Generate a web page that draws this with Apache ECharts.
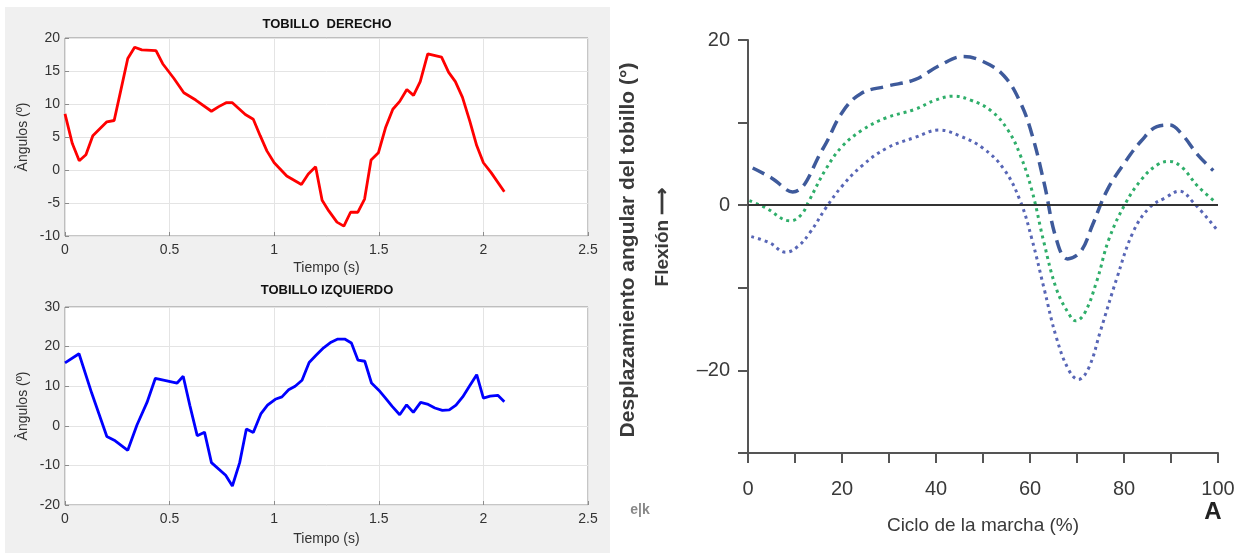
<!DOCTYPE html>
<html>
<head>
<meta charset="utf-8">
<script src="https://cdn.jsdelivr.net/npm/echarts@6/dist/echarts.min.js"></script>
<style>
  html, body { margin: 0; padding: 0; background: #ffffff; }
  #chart { width: 1247px; height: 553px; }
</style>
</head>
<body>
<div id="chart"></div>
<script>
// Tobillo derecho: tiempo (s) y ángulo (º)
const derechoTiempo = [0, 0.035, 0.068, 0.1, 0.133, 0.2, 0.235, 0.267, 0.3, 0.333, 0.367, 0.435, 0.467, 0.52, 0.568, 0.625, 0.7, 0.735, 0.77, 0.8, 0.862, 0.9, 0.933, 0.965, 1.0, 1.06, 1.13, 1.163, 1.198, 1.229, 1.261, 1.3, 1.333, 1.365, 1.4, 1.432, 1.463, 1.498, 1.532, 1.567, 1.6, 1.634, 1.666, 1.698, 1.734, 1.8, 1.834, 1.866, 1.9, 1.935, 1.968, 2.0, 2.037, 2.1];
const derechoAngulo = [8.5, 4.0, 1.4, 2.3, 5.2, 7.3, 7.5, 12.1, 16.9, 18.6, 18.2, 18.1, 16.1, 13.9, 11.7, 10.6, 8.9, 9.6, 10.2, 10.2, 8.4, 7.7, 5.2, 2.9, 1.1, -0.9, -2.2, -0.6, 0.5, -4.6, -6.2, -7.9, -8.5, -6.4, -6.4, -4.4, 1.5, 2.6, 6.4, 9.2, 10.4, 12.2, 11.3, 13.4, 17.6, 17.1, 14.8, 13.4, 11.0, 7.4, 3.7, 1.1, -0.4, -3.3];

// Tobillo izquierdo: tiempo (s) y ángulo (º)
const izquierdoTiempo = [0, 0.067, 0.128, 0.2, 0.24, 0.3, 0.344, 0.392, 0.432, 0.536, 0.565, 0.597, 0.632, 0.667, 0.7, 0.768, 0.8, 0.835, 0.867, 0.9, 0.936, 0.968, 1.005, 1.037, 1.069, 1.1, 1.133, 1.167, 1.2, 1.236, 1.272, 1.304, 1.337, 1.369, 1.4, 1.433, 1.465, 1.5, 1.532, 1.564, 1.6, 1.633, 1.665, 1.7, 1.732, 1.768, 1.804, 1.837, 1.869, 1.901, 1.933, 1.968, 2.0, 2.032, 2.069, 2.1];
const izquierdoAngulo = [15.9, 18.2, 8.2, -2.7, -3.8, -6.2, 0.2, 5.9, 12.0, 10.8, 12.5, 5.1, -2.5, -1.6, -9.3, -12.5, -15.2, -9.3, -0.8, -1.7, 3.0, 5.2, 6.7, 7.3, 9.1, 10.0, 11.5, 16.0, 17.8, 19.7, 21.1, 21.9, 21.9, 20.9, 16.6, 16.3, 10.8, 9.0, 7.0, 4.9, 2.8, 5.3, 3.4, 5.9, 5.5, 4.5, 3.9, 4.0, 5.2, 7.3, 10.0, 12.9, 7.0, 7.5, 7.7, 6.1];

// Ciclo de la marcha (%): curva superior (discontinua)
const superiorCiclo = [1, 5, 9.5, 16, 20, 24, 29.5, 35.5, 40.7, 45.8, 50, 54.4, 57.9, 60.4, 63, 65.6, 68, 70.8, 73.3, 76.4, 80.2, 83.7, 87, 89.7, 92.3, 95.7, 99];
const superiorGrados = [4.5, 3.3, 1.6, 6.9, 11.2, 13.5, 14.4, 15.2, 16.9, 18.0, 17.4, 15.7, 12.5, 8.6, 2.7, -4.1, -6.5, -5.6, -2.4, 1.8, 5.2, 7.8, 9.5, 9.7, 8.6, 6.1, 4.2];

// Curva media (punteada verde)
const mediaCiclo = [0.3, 3.7, 9, 11.4, 13, 16.6, 20, 24.3, 29.5, 35.5, 39.8, 43.7, 47.5, 51.8, 55.3, 57.9, 60.4, 63, 65.6, 68.2, 69.7, 71.6, 74.2, 76.8, 80.2, 83.7, 87.1, 89.7, 92.3, 95.7, 99.6];
const mediaGrados = [0.55, -0.3, -1.9, -1.1, 0.55, 4.4, 7.1, 9.1, 10.6, 11.6, 12.7, 13.2, 12.7, 11.4, 9.1, 6.1, 1.8, -4.6, -10.1, -13.1, -14.0, -13.1, -9.2, -4.1, 0.1, 3.1, 4.9, 5.3, 4.6, 2.3, 0.3];

// Curva inferior (punteada azul)
const inferiorCiclo = [0.7, 4.6, 8, 10.6, 13.2, 16.6, 20, 24.3, 29.5, 35.5, 40.7, 45, 50, 54.4, 57.9, 60.4, 63, 65.6, 68.2, 70.3, 72.5, 75, 78.5, 81.9, 85.4, 88.8, 91.8, 94.8, 99.6];
const inferiorGrados = [-3.8, -4.55, -5.7, -5.0, -3.3, -0.3, 2.3, 4.8, 6.9, 8.2, 9.1, 8.4, 6.9, 4.4, 0.55, -4.1, -10.1, -16.0, -19.9, -21.1, -19.7, -15.2, -8.8, -3.3, -0.3, 0.9, 1.7, 0.3, -2.85];

const cicloEtiquetas = [0, 20, 40, 60, 80, 100];
const gradosEtiquetas = [20, 0, -20];

function pares(xs, ys) { return xs.map((x, i) => [x, ys[i]]); }

const matFont = 'Liberation Sans, Arial, Helvetica, sans-serif';
const bookFont = '"Liberation Sans Narrow", "Arial Narrow", "Liberation Sans", Arial, sans-serif';
const tickColor = '#333333';

function matGrid(top) {
  return {
    left: 65, top: top, width: 523, height: 198,
    show: true, backgroundColor: '#ffffff', borderColor: '#8c8c8c', borderWidth: 1
  };
}
function matX(gi, gap) {
  return {
    gridIndex: gi, type: 'value', min: 0, max: 2.5, interval: 0.5,
    name: 'Tiempo (s)', nameLocation: 'middle', nameGap: gap,
    nameTextStyle: { fontFamily: matFont, fontSize: 14, color: tickColor },
    axisLine: { show: false, onZero: false },
    axisTick: { show: true, inside: true, length: 4, lineStyle: { color: '#8c8c8c' } },
    axisLabel: { fontFamily: matFont, fontSize: 14, color: tickColor, margin: 7 },
    splitLine: { show: true, lineStyle: { color: '#e4e4e4', width: 1 } }
  };
}
function matY(gi, min, max, interval) {
  return {
    gridIndex: gi, type: 'value', min: min, max: max, interval: interval,
    name: 'Àngulos (º)', nameLocation: 'middle', nameGap: 35,
    nameTextStyle: { fontFamily: matFont, fontSize: 14, color: tickColor },
    axisLine: { show: false, onZero: false },
    axisTick: { show: true, inside: true, length: 4, lineStyle: { color: '#8c8c8c' } },
    axisLabel: { fontFamily: matFont, fontSize: 14, color: tickColor, margin: 5 },
    splitLine: { show: true, lineStyle: { color: '#e4e4e4', width: 1 } }
  };
}

const chart = echarts.init(document.getElementById('chart'), null, { renderer: 'canvas' });

const option = {
  backgroundColor: '#ffffff',
  animation: false,
  graphic: [
    { type: 'rect', z: -100, silent: true, shape: { x: 5, y: 7, width: 605, height: 546 }, style: { fill: '#f0f0f0' } },
    { type: 'text', x: 327, y: 24, silent: true, style: { text: 'TOBILLO  DERECHO', font: 'bold 13px ' + matFont, fill: '#111111', align: 'center', verticalAlign: 'middle' } },
    { type: 'text', x: 327, y: 290, silent: true, style: { text: 'TOBILLO IZQUIERDO', font: 'bold 13px ' + matFont, fill: '#111111', align: 'center', verticalAlign: 'middle' } },
    { type: 'text', x: 628, y: 250, rotation: Math.PI / 2, silent: true, style: { text: 'Desplazamiento angular del tobillo (°)', font: 'bold 21px ' + bookFont, fill: '#3a3a3a', align: 'center', verticalAlign: 'middle' } },
    { type: 'text', x: 663, y: 237, rotation: Math.PI / 2, silent: true, style: { text: 'Flexión ⟶', font: 'bold 19px ' + bookFont, fill: '#3a3a3a', align: 'center', verticalAlign: 'middle' } },
    { type: 'text', x: 1213, y: 512, silent: true, style: { text: 'A', font: 'bold 24px ' + bookFont, fill: '#222222', align: 'center', verticalAlign: 'middle' } },
    { type: 'text', x: 640, y: 510, silent: true, style: { text: 'e|k', font: 'bold 14px ' + bookFont, fill: '#888888', align: 'center', verticalAlign: 'middle' } }
  ],
  grid: [
    matGrid(38),
    matGrid(307),
    { left: 748, top: 40, width: 470, height: 413, show: false }
  ],
  xAxis: [
    matX(0, 25),
    matX(1, 27),
    {
      gridIndex: 2, type: 'value', min: 0, max: 100, interval: 10,
      name: 'Ciclo de la marcha (%)', nameLocation: 'middle', nameGap: 63,
      nameTextStyle: { fontFamily: bookFont, fontSize: 19, color: '#3a3a3a' },
      axisLine: { show: true, onZero: false, lineStyle: { color: '#555555', width: 2 } },
      axisTick: { show: true, length: 10, lineStyle: { color: '#555555', width: 2 } },
      axisLabel: {
        fontFamily: bookFont, fontSize: 20, color: '#3a3a3a', margin: 26,
        formatter: v => cicloEtiquetas.includes(v) ? String(v) : ''
      },
      splitLine: { show: false }
    }
  ],
  yAxis: [
    matY(0, -10, 20, 5),
    matY(1, -20, 30, 10),
    {
      gridIndex: 2, type: 'value', min: -30, max: 20, interval: 10,
      axisLine: { show: true, onZero: false, lineStyle: { color: '#555555', width: 2 } },
      axisTick: { show: true, length: 10, lineStyle: { color: '#555555', width: 2 } },
      axisLabel: {
        fontFamily: bookFont, fontSize: 20, color: '#3a3a3a', margin: 18,
        formatter: v => gradosEtiquetas.includes(v) ? (v < 0 ? '–' + Math.abs(v) : String(v)) : ''
      },
      splitLine: { show: false }
    }
  ],
  series: [
    {
      type: 'line', xAxisIndex: 0, yAxisIndex: 0, data: pares(derechoTiempo, derechoAngulo),
      showSymbol: false, lineStyle: { color: '#ff0000', width: 2.8 }, z: 3
    },
    {
      type: 'line', xAxisIndex: 1, yAxisIndex: 1, data: pares(izquierdoTiempo, izquierdoAngulo),
      showSymbol: false, lineStyle: { color: '#0000ff', width: 2.8 }, z: 3
    },
    {
      type: 'line', xAxisIndex: 2, yAxisIndex: 2, data: pares(superiorCiclo, superiorGrados),
      showSymbol: false, smooth: 0.4,
      lineStyle: { color: '#3e5a9b', width: 3.5, type: [13, 7] },
      markLine: {
        silent: true, symbol: 'none', label: { show: false },
        lineStyle: { color: '#333333', width: 2, type: 'solid' },
        data: [{ yAxis: 0 }]
      }
    },
    {
      type: 'line', xAxisIndex: 2, yAxisIndex: 2, data: pares(mediaCiclo, mediaGrados),
      showSymbol: false, smooth: 0.4,
      lineStyle: { color: '#2fae6a', width: 3, type: [3, 4] }
    },
    {
      type: 'line', xAxisIndex: 2, yAxisIndex: 2, data: pares(inferiorCiclo, inferiorGrados),
      showSymbol: false, smooth: 0.4,
      lineStyle: { color: '#5866b6', width: 3, type: [3, 4] }
    }
  ]
};

chart.setOption(option);
</script>
</body>
</html>
